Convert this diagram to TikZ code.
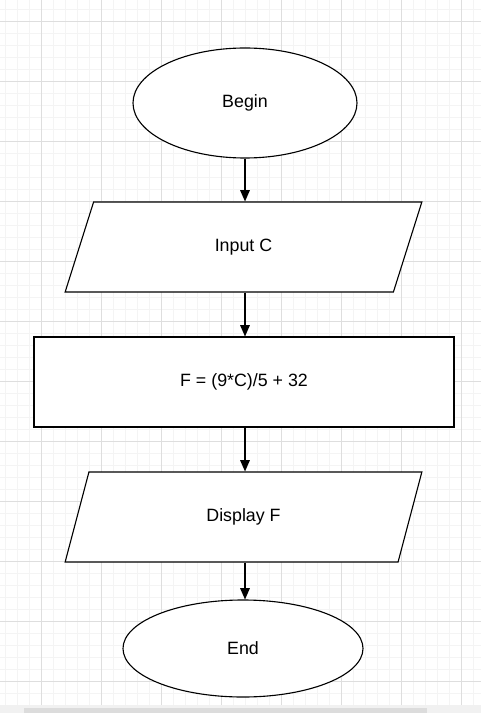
\documentclass[tikz,border=0pt]{standalone}
\usepackage{fontspec}
\setmainfont{Liberation Sans}
\usetikzlibrary{arrows.meta,shapes.geometric}
\definecolor{minorgrid}{HTML}{F4F4F4}
\definecolor{majorgrid}{HTML}{DEDEDE}
\definecolor{barbg}{HTML}{F1F1F1}
\definecolor{barthumb}{HTML}{DCDCDC}

\tikzset{
    flowtext/.style={font=\fontsize{15.2}{18}\selectfont},
    terminal/.style={flowtext, draw, ellipse, line width=0.95pt, fill=white},
    iobox/.style={flowtext, draw, trapezium, trapezium left angle=75.5, trapezium right angle=104.5,
        trapezium stretches=true, line width=0.95pt, fill=white,
        minimum width=10.77cm, minimum height=2.7cm},
    procbox/.style={flowtext, draw, rectangle, line width=0.95pt, fill=white,
        minimum width=12.6cm, minimum height=2.7cm},
    flowarrow/.style={-{Triangle[length=3.4mm,width=2.9mm]}, line width=0.95pt}
}

\begin{document}
\begin{tikzpicture}[x=0.03cm,y=-0.03cm]
    \useasboundingbox (0,0) rectangle (481,713);
    \fill[white] (0,0) rectangle (481,713);

    % background grid
    \begin{scope}[shift={(41,21)}]
        \draw[step=0.36cm, minorgrid, very thin] (-41,-21) grid (440,684);
        \draw[step=1.8cm, majorgrid, thin] (-41,-21) grid (440,684);
    \end{scope}

    % scroll bar
    \fill[barbg] (0,705) rectangle (481,713);
    \fill[barthumb] (24,708) rectangle (427,713);

    \node[terminal, minimum width=6.72cm, minimum height=3.3cm] (begin) at (245,103) {Begin};
    \node[iobox] (input) at (243.5,247) {Input C};
    \node[procbox] (calc) at (244,382) {F = (9*C)/5 + 32};
    \node[iobox] (display) at (243.5,517) {Display F};
    \node[terminal, minimum width=7.2cm, minimum height=2.91cm] (end) at (243,648.5) {End};

    \draw[flowarrow] (begin.south) -- (begin.south |- input.north);
    \draw[flowarrow] (begin.south |- input.south) -- (begin.south |- calc.north);
    \draw[flowarrow] (begin.south |- calc.south) -- (begin.south |- display.north);
    \draw[flowarrow] (begin.south |- display.south) -- (begin.south |- end.north);
\end{tikzpicture}
\end{document}
